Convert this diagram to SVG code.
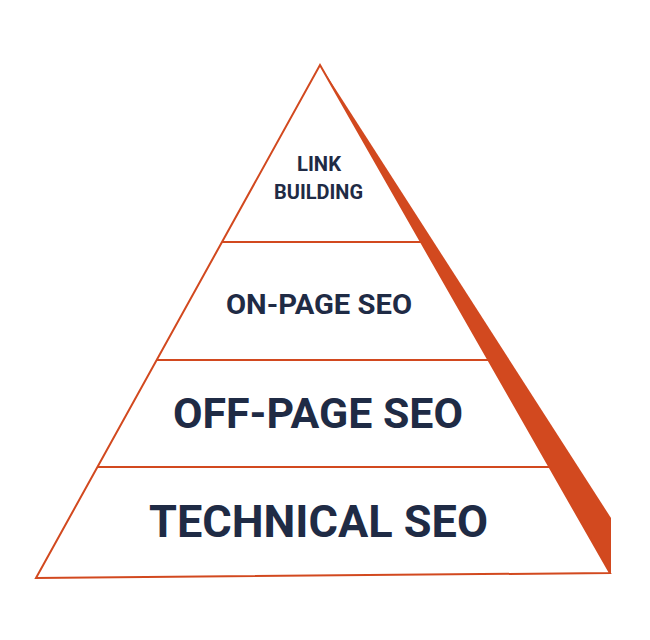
<svg xmlns="http://www.w3.org/2000/svg" width="650" height="640" viewBox="0 0 650 640">
<style>
.edge{stroke:#d2491f;stroke-width:2;fill:none;stroke-linejoin:miter}
.lbl{font-family:Roboto,"Liberation Sans",sans-serif;font-weight:700;fill:#1f2b45;text-anchor:middle}
</style>
<rect width="650" height="640" fill="#ffffff"/>
<g id="shadow">
<polygon points="320,65 611,518 611,574 610,573" fill="#d2491f"/>
</g>
<g id="pyramid">
<polygon class="edge" points="320,65 610,573 36,578"/>
</g>
<g id="connectors">
<line class="edge" x1="222" y1="242" x2="421" y2="242"/>
<line class="edge" x1="157" y1="360" x2="488" y2="360"/>
<line class="edge" x1="97" y1="467" x2="550" y2="467"/>
</g>
<g id="link-building">
<text class="lbl" x="319" y="171" font-size="21" textLength="44" lengthAdjust="spacingAndGlyphs">LINK</text>
<text class="lbl" x="318.5" y="199" font-size="21" textLength="89" lengthAdjust="spacingAndGlyphs">BUILDING</text>
</g>
<g id="on-page-seo">
<text class="lbl" x="319" y="314" font-size="28" textLength="186" lengthAdjust="spacingAndGlyphs">ON-PAGE SEO</text>
</g>
<g id="off-page-seo">
<text class="lbl" x="318" y="428" font-size="42" textLength="290" lengthAdjust="spacingAndGlyphs">OFF-PAGE SEO</text>
</g>
<g id="technical-seo">
<text class="lbl" x="318.5" y="537" font-size="44" textLength="339" lengthAdjust="spacingAndGlyphs">TECHNICAL SEO</text>
</g>
</svg>
